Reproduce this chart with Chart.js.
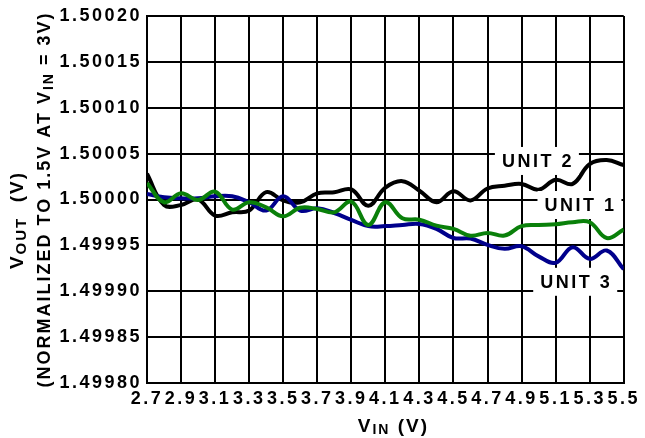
<!DOCTYPE html>
<html><head><meta charset="utf-8">
<script src="https://cdn.jsdelivr.net/npm/chart.js@4"></script>
<style>html,body{margin:0;padding:0;background:#fff}</style>
</head><body>
<canvas id="c" width="645" height="438" style="display:block;width:645px;height:438px"></canvas>
<script>
const vin = [2.7,2.8,2.9,3.0,3.1,3.2,3.3,3.4,3.5,3.6,3.7,3.8,3.9,4.0,4.1,4.2,4.3,4.4,4.5,4.6,4.7,4.8,4.9,5.0,5.1,5.2,5.3,5.4,5.5];
const unit2 = [1.500028,1.499994,1.499994,1.500000,1.4999825,1.499986,1.499988,1.500008,1.499999,1.499997,1.5000067,1.5000078,1.500011,1.4999933,1.500013,1.500020,1.5000096,1.499997,1.500009,1.499999,1.500012,1.500015,1.500017,1.5000107,1.5000215,1.500017,1.5000386,1.500043,1.5000375];
const unit1 = [1.500018,1.499997,1.5000067,1.4999995,1.5000085,1.499989,1.499997,1.4999915,1.4999817,1.499991,1.4999897,1.499986,1.4999976,1.4999723,1.499997,1.4999795,1.499978,1.4999715,1.499968,1.4999605,1.4999636,1.4999607,1.499971,1.4999723,1.499973,1.4999752,1.4999752,1.499958,1.4999672];
const unit3 = [1.500006,1.5000024,1.5000013,1.5000013,1.5000035,1.5000035,1.499997,1.499988,1.5000035,1.499988,1.4999904,1.4999853,1.4999777,1.499971,1.499971,1.4999723,1.4999734,1.499968,1.499958,1.4999575,1.4999505,1.4999462,1.499949,1.499938,1.499931,1.499948,1.4999353,1.4999444,1.499924];
const xTicks = [2.7,2.9,3.1,3.3,3.5,3.7,3.9,4.1,4.3,4.5,4.7,4.9,5.1,5.3,5.5];
const yTicks = [1.4998,1.49985,1.4999,1.49995,1.5,1.50005,1.5001,1.50015,1.5002];
const unitNames = ['UNIT 2','UNIT 1','UNIT 3'];
const labelAnchors = [[4.99,1.500042],[5.24,1.499994],[5.215,1.4999103]];

const FONT = 'Liberation Sans, Arial, sans-serif';
const SP = '2.5px';

function toXY(xs, ys){ return xs.map((x,i)=>({x:x, y:ys[i]})); }

function drawRich(ctx, parts, align){
  let total = 0;
  parts.forEach(p=>{ ctx.font = 'bold '+p[1]+'px '+FONT; p.w = ctx.measureText(p[0]).width; total += p.w; });
  let x = align==='center' ? -total/2 : 0;
  ctx.textAlign = 'left';
  ctx.textBaseline = 'alphabetic';
  parts.forEach(p=>{ ctx.font = 'bold '+p[1]+'px '+FONT; ctx.fillText(p[0], x, p[2]||0); x += p.w; });
}

const deco = {
  id: 'deco',
  beforeLayout(chart){ chart.ctx.letterSpacing = SP; },
  beforeDraw(chart){ chart.ctx.letterSpacing = SP; },
  afterDatasetsDraw(chart){
    const ctx = chart.ctx, xs = chart.scales.x, ys = chart.scales.y;
    ctx.save();
    ctx.letterSpacing = SP;
    ctx.font = 'bold 18px '+FONT;
    unitNames.forEach((t,i)=>{
      const px = xs.getPixelForValue(labelAnchors[i][0]);
      const py = ys.getPixelForValue(labelAnchors[i][1]);
      const w = ctx.measureText(t).width;
      ctx.fillStyle = '#fff';
      ctx.fillRect(px - w/2 - 6, py - 14, w + 12, 28);
      ctx.fillStyle = '#000';
      ctx.textAlign = 'center';
      ctx.textBaseline = 'middle';
      ctx.fillText(t, px + 1, py + 1);
    });
    ctx.restore();
  },
  afterDraw(chart){
    const ctx = chart.ctx, a = chart.chartArea;
    ctx.save();
    ctx.fillStyle = '#000';
    ctx.letterSpacing = '2px';
    ctx.save();
    ctx.translate((a.left + a.right)/2 + 8, 432);
    drawRich(ctx, [['V',19,0],['IN',14,2],[' (V)',19,0]], 'center');
    ctx.restore();
    ctx.save();
    ctx.translate(23, 220);
    ctx.rotate(-Math.PI/2);
    drawRich(ctx, [['V',19,0],['OUT',15,3],['  (V)',19,0]], 'center');
    ctx.restore();
    ctx.save();
    ctx.translate(50, (a.top + a.bottom)/2);
    ctx.rotate(-Math.PI/2);
    drawRich(ctx, [['(NORMAILIZED TO 1.5V AT V',18,0],['IN',14,3],[' = 3V)',18,0]], 'center');
    ctx.restore();
    ctx.restore();
  }
};

const tickFont = {family: FONT, size: 18, weight: 'bold'};

new Chart(document.getElementById('c'), {
  type: 'line',
  data: {
    datasets: [
      {label: unitNames[1], data: toXY(vin, unit1), borderColor: '#0a800a', borderWidth: 4, pointRadius: 0, tension: 0.4, order: 0},
      {label: unitNames[2], data: toXY(vin, unit3), borderColor: '#00008c', borderWidth: 4, pointRadius: 0, tension: 0.4, order: 1},
      {label: unitNames[0], data: toXY(vin, unit2), borderColor: '#000000', borderWidth: 4, pointRadius: 0, tension: 0.4, order: 2}
    ]
  },
  options: {
    responsive: false,
    animation: false,
    devicePixelRatio: 1,
    layout: {padding: {top: 16, right: 21, left: 0, bottom: 0}},
    plugins: {legend: {display: false}, tooltip: {enabled: false}},
    scales: {
      x: {
        type: 'linear', min: 2.7, max: 5.5,
        afterBuildTicks: s => { s.ticks = xTicks.map(v => ({value: v})); },
        afterFit: s => { s.height = 55; },
        ticks: {autoSkip: false, maxRotation: 0, minRotation: 0, padding: 5, color: '#000', font: tickFont, callback: v => Number(v).toFixed(1)},
        grid: {color: '#000', lineWidth: 2, drawTicks: false},
        border: {color: '#000', width: 2}
      },
      y: {
        type: 'linear', min: 1.4998, max: 1.5002,
        afterBuildTicks: s => { s.ticks = yTicks.map(v => ({value: v})); },
        afterFit: s => { s.width = 147; },
        ticks: {padding: 5, color: '#000', font: tickFont, callback: v => Number(v).toFixed(5)},
        grid: {color: '#000', lineWidth: 2, drawTicks: false},
        border: {color: '#000', width: 2}
      }
    }
  },
  plugins: [deco]
});
</script>
</body></html>
